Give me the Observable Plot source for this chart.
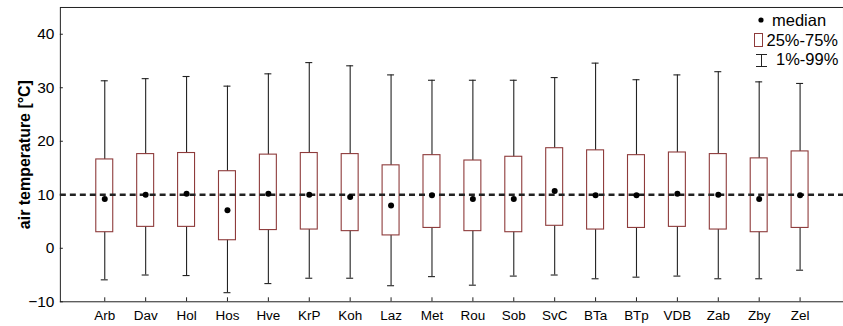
<!DOCTYPE html>
<html>
<head>
<meta charset="utf-8">
<script src="https://cdn.jsdelivr.net/npm/d3@7"></script>
<script src="https://cdn.jsdelivr.net/npm/@observablehq/plot@0.6"></script>
<style>
  html, body { margin: 0; padding: 0; background: #fff; overflow: hidden; }
  #wrap { position: relative; width: 843px; height: 326px; overflow: hidden; font-family: "Liberation Sans", Arial, sans-serif; }
  #wrap svg { font-family: "Liberation Sans", Arial, sans-serif; color: #000; }
  g[aria-label="y-axis label"] text, g[aria-label="y-axis label"] { font-weight: bold; font-size: 16px; }
  #legend { position: absolute; left: 0; top: 0; pointer-events: none; }
</style>
</head>
<body>
<div id="wrap"></div>
<script>
const stations = ["Arb","Dav","Hol","Hos","Hve","KrP","Koh","Laz","Met","Rou","Sob","SvC","BTa","BTp","VDB","Zab","Zby","Zel"];
const p01    = [-5.9, -5.0, -5.1, -8.3, -6.6, -5.6, -5.6, -7.0, -5.3, -6.9, -5.2, -5.0, -5.7, -5.4, -5.2, -5.7, -5.7, -4.1];
const p25    = [ 3.0,  4.0,  4.0,  1.5,  3.4,  3.5,  3.2,  2.4,  3.8,  3.2,  3.0,  4.2,  3.5,  3.8,  4.0,  3.5,  3.0,  3.8];
const median = [ 9.2, 10.0, 10.2,  7.1, 10.2, 10.0,  9.6,  8.0,  9.9,  9.2,  9.2, 10.7,  9.9,  9.9, 10.2, 10.0,  9.2,  9.9];
const p75    = [16.6, 17.6, 17.8, 14.4, 17.5, 17.8, 17.6, 15.5, 17.4, 16.4, 17.1, 18.7, 18.3, 17.4, 17.9, 17.6, 16.8, 18.1];
const p99    = [31.3, 31.7, 32.1, 30.3, 32.6, 34.7, 34.1, 32.4, 31.4, 31.4, 31.4, 31.9, 34.6, 31.5, 32.4, 33.0, 31.1, 30.8];
const yTicks = [-10, 0, 10, 20, 30, 40];
const yDomain = [-10, 45];
const refLine = [10];
const legendLabels = ["median", "25%-75%", "1%-99%"];

const data = stations.map((s, i) => ({station: s, p01: p01[i], p25: p25[i], median: median[i], p75: p75[i], p99: p99[i]}));

const boxColor = "#8e3b3b";
const whiskerColor = "#222";

// the plot is 2px wider than the window so that the frame's right edge falls outside it
const chart = Plot.plot({
  width: 845,
  height: 326,
  marginTop: 7,
  marginLeft: 60,
  marginRight: 0,
  marginBottom: 24,
  style: {fontFamily: '"Liberation Sans", Arial, sans-serif', color: "#000", background: "#fff"},
  x: {type: "band", domain: stations, paddingInner: 0.59, paddingOuter: 0.79},
  y: {domain: yDomain},
  marks: [
    Plot.axisX({tickSize: -4, tickPadding: 13, fontSize: 13.5, label: null, stroke: "#222"}),
    Plot.axisY({ticks: yTicks, tickSize: -3, tickPadding: 9, fontSize: 15.5, label: "air temperature [°C]", labelAnchor: "center", labelOffset: 42, labelArrow: "none", stroke: "#222"}),
    Plot.ruleX(data, {x: "station", y1: "p01", y2: "p99", stroke: whiskerColor, strokeWidth: 1.1}),
    Plot.tickY(data, {x: "station", y: "p99", stroke: whiskerColor, strokeWidth: 1.1, insetLeft: 5, insetRight: 5}),
    Plot.tickY(data, {x: "station", y: "p01", stroke: whiskerColor, strokeWidth: 1.1, insetLeft: 5, insetRight: 5}),
    Plot.barY(data, {x: "station", y1: "p25", y2: "p75", fill: "white", stroke: boxColor, strokeWidth: 1.1}),
    Plot.ruleY(refLine, {stroke: "#222", strokeWidth: 2.5, strokeDasharray: "6,4"}),
    Plot.dot(data, {x: "station", y: "median", r: 3, fill: "#000", stroke: "none"}),
    Plot.frame({stroke: "#222"})
  ]
});

const wrap = document.getElementById("wrap");
wrap.appendChild(chart);

// legend overlay
const ns = "http://www.w3.org/2000/svg";
const lg = document.createElementNS(ns, "svg");
lg.setAttribute("id", "legend");
lg.setAttribute("width", 843);
lg.setAttribute("height", 80);
const sel = d3.select(lg);
sel.append("circle").attr("cx", 761).attr("cy", 20).attr("r", 2.6).attr("fill", "#000");
sel.append("rect").attr("x", 754.5).attr("y", 33.5).attr("width", 8).attr("height", 13).attr("fill", "#fff").attr("stroke", boxColor);
sel.append("line").attr("x1", 761.5).attr("x2", 761.5).attr("y1", 54).attr("y2", 67).attr("stroke", whiskerColor);
sel.append("line").attr("x1", 756).attr("x2", 767).attr("y1", 54.5).attr("y2", 54.5).attr("stroke", whiskerColor);
sel.append("line").attr("x1", 756).attr("x2", 767).attr("y1", 66.5).attr("y2", 66.5).attr("stroke", whiskerColor);
const tx = [772, 766.5, 776];
const ty = [20, 40, 59];
legendLabels.forEach((t, i) => {
  sel.append("text").attr("x", tx[i]).attr("y", ty[i]).attr("dy", "0.35em")
    .attr("font-size", 16.5).attr("font-family", '"Liberation Sans", Arial, sans-serif').attr("fill", "#000").text(t);
});
wrap.appendChild(lg);
</script>
</body>
</html>
